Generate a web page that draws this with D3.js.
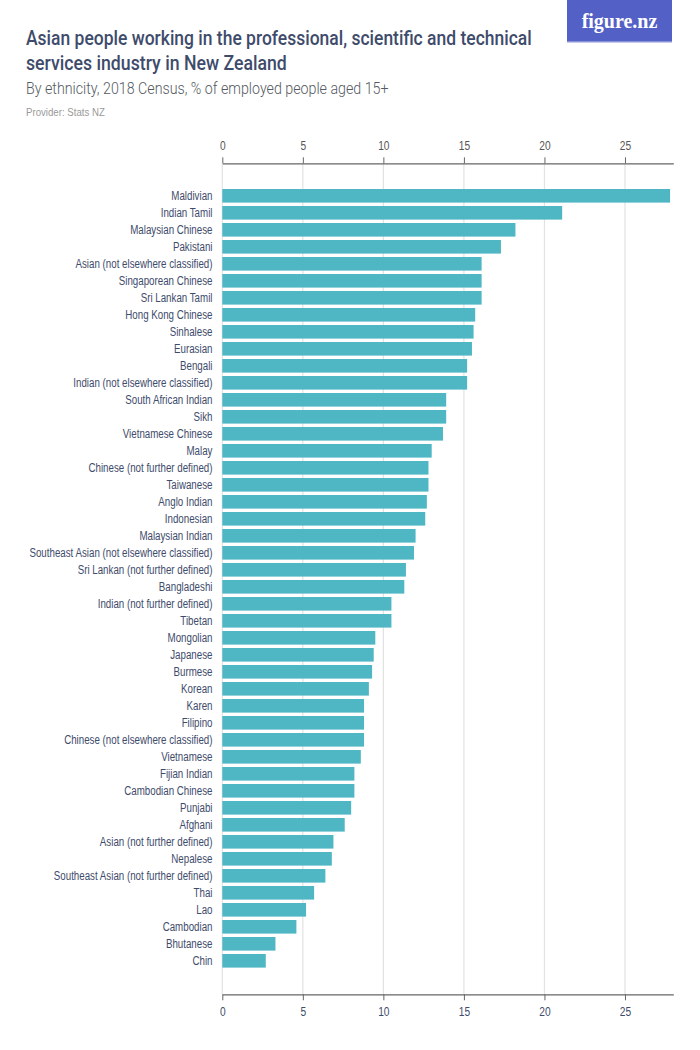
<!DOCTYPE html>
<html>
<head>
<meta charset="utf-8">
<script src="https://cdn.jsdelivr.net/npm/d3@7"></script>
<style>
  body { margin: 0; background: #fff; }
  svg { display: block; }
  text { font-family: "Liberation Sans", Arial, sans-serif; }
</style>
</head>
<body>
<svg id="chart" width="700" height="1050"></svg>
<script>
const categories = [
  "Maldivian", "Indian Tamil", "Malaysian Chinese", "Pakistani",
  "Asian (not elsewhere classified)", "Singaporean Chinese", "Sri Lankan Tamil",
  "Hong Kong Chinese", "Sinhalese", "Eurasian", "Bengali",
  "Indian (not elsewhere classified)", "South African Indian", "Sikh",
  "Vietnamese Chinese", "Malay", "Chinese (not further defined)", "Taiwanese",
  "Anglo Indian", "Indonesian", "Malaysian Indian",
  "Southeast Asian (not elsewhere classified)", "Sri Lankan (not further defined)",
  "Bangladeshi", "Indian (not further defined)", "Tibetan", "Mongolian",
  "Japanese", "Burmese", "Korean", "Karen", "Filipino",
  "Chinese (not elsewhere classified)", "Vietnamese", "Fijian Indian",
  "Cambodian Chinese", "Punjabi", "Afghani", "Asian (not further defined)",
  "Nepalese", "Southeast Asian (not further defined)", "Thai", "Lao",
  "Cambodian", "Bhutanese", "Chin"
];
const values = [
  27.8, 21.1, 18.2, 17.3,
  16.1, 16.1, 16.1,
  15.7, 15.6, 15.5, 15.2,
  15.2, 13.9, 13.9,
  13.7, 13.0, 12.8, 12.8,
  12.7, 12.6, 12.0,
  11.9, 11.4,
  11.3, 10.5, 10.5, 9.5,
  9.4, 9.3, 9.1, 8.8, 8.8,
  8.8, 8.6, 8.2,
  8.2, 8.0, 7.6, 6.9,
  6.8, 6.4, 5.7, 5.2,
  4.6, 3.3, 2.7
];
const tickValues = [0, 5, 10, 15, 20, 25];
const titleLines = [
  "Asian people working in the professional, scientific and technical",
  "services industry in New Zealand"
];
const subtitle = "By ethnicity, 2018 Census, % of employed people aged 15+";
const provider = "Provider: Stats NZ";

const data = categories.map((c, i) => ({ name: c, value: values[i] }));

const svg = d3.select("#chart");
const left = 222.3, right = 673.3;
const topAxisY = 163.3, bottomAxisY = 994.3;

const x = d3.scaleLinear().domain([0, 28]).range([left, right]);
const y = d3.scaleBand().domain(categories).range([187.3, 969.3]).paddingInner(0.2).paddingOuter(0.1);

function condense(sel, k) {
  sel.each(function() {
    const w = this.getComputedTextLength();
    d3.select(this).attr("textLength", w * k).attr("lengthAdjust", "spacingAndGlyphs");
  });
}
// place a text at (x0, y0), horizontally squeezed by a group transform to a target width
function squeezedText(parent, x0, y0, str, width, styleFn) {
  const g = parent.append("g");
  const t = g.append("text").attr("x", 0).attr("y", 0).text(str);
  styleFn(t);
  const w = t.node().getComputedTextLength();
  g.attr("transform", `translate(${x0},${y0}) scale(${width / w},1)`);
  return t;
}

// Title block
const titleColor = "#3e4b6b";
const titleWidths = [506, 261];
titleLines.forEach((line, i) => {
  squeezedText(svg, 26, 44.5 + i * 25, line, titleWidths[i], t => t
    .attr("fill", titleColor)
    .attr("font-size", 20.5)
    .style("font-family", "Roboto, 'Liberation Sans', sans-serif")
    .style("font-weight", 500));
});
squeezedText(svg, 26, 94, subtitle, 363, t => t
  .attr("fill", "#555a62").attr("font-size", 16)
  .style("font-family", "Roboto, 'Liberation Sans', sans-serif")
  .style("font-weight", 300));
squeezedText(svg, 26, 116, provider, 79, t => t
  .attr("fill", "#9a9a9a").attr("font-size", 10.5));

// Logo
svg.append("rect").attr("x", 567).attr("y", 0).attr("width", 105).attr("height", 42).attr("fill", "#5360c6");
svg.append("rect").attr("x", 567).attr("y", 41).attr("width", 105).attr("height", 1.5).attr("fill", "#8a93d8");
svg.append("text").attr("x", 619.5).attr("y", 28)
  .attr("text-anchor", "middle")
  .attr("fill", "#fff").attr("font-size", 20)
  .style("font-family", "'Liberation Serif', 'DejaVu Serif', serif")
  .style("font-weight", "bold")
  .text("figure.nz");

// Gridlines
svg.append("g").selectAll("line").data(tickValues).join("line")
  .attr("x1", d => x(d)).attr("x2", d => x(d))
  .attr("y1", topAxisY).attr("y2", bottomAxisY)
  .attr("stroke", "#e2e2e2").attr("stroke-width", 1.2);

// Bars
svg.append("g").selectAll("rect").data(data).join("rect")
  .attr("x", x(0)).attr("y", d => y(d.name))
  .attr("width", d => x(d.value) - x(0))
  .attr("height", y.bandwidth())
  .attr("fill", "#4fb6c4");

// Axes
const topAxis = d3.axisTop(x).tickValues(tickValues).tickSize(6).tickSizeOuter(0).tickPadding(7);
const gTop = svg.append("g").attr("transform", `translate(0,${topAxisY})`).call(topAxis);
const botAxis = d3.axisBottom(x).tickValues(tickValues).tickSize(6).tickSizeOuter(0).tickPadding(7);
const gBot = svg.append("g").attr("transform", `translate(0,${bottomAxisY})`).call(botAxis);
[gTop, gBot].forEach((g, i) => {
  g.select(".domain").attr("stroke", "#666").attr("stroke-width", 1.2);
  g.selectAll(".tick line").attr("stroke", "#666");
  const t = g.selectAll(".tick text")
    .attr("fill", i === 0 ? "#555" : "#3e4b6b")
    .attr("font-size", 12)
    .style("font-family", "'Liberation Sans', sans-serif");
  condense(t, 0.85);
});

// Category labels
const labels = svg.append("g").selectAll("text").data(data).join("text")
  .attr("x", 212.5)
  .attr("y", d => y(d.name) + y.bandwidth() / 2)
  .attr("dy", "0.36em")
  .attr("text-anchor", "end")
  .attr("fill", "#3e4b6b")
  .attr("font-size", 12.5)
  .text(d => d.name);
// reference: "Asian (not elsewhere classified)" is ~137px wide
const refNode = labels.filter(d => d.name === "Asian (not elsewhere classified)").node();
const k = 137 / refNode.getComputedTextLength();
condense(labels, k);
</script>
</body>
</html>
